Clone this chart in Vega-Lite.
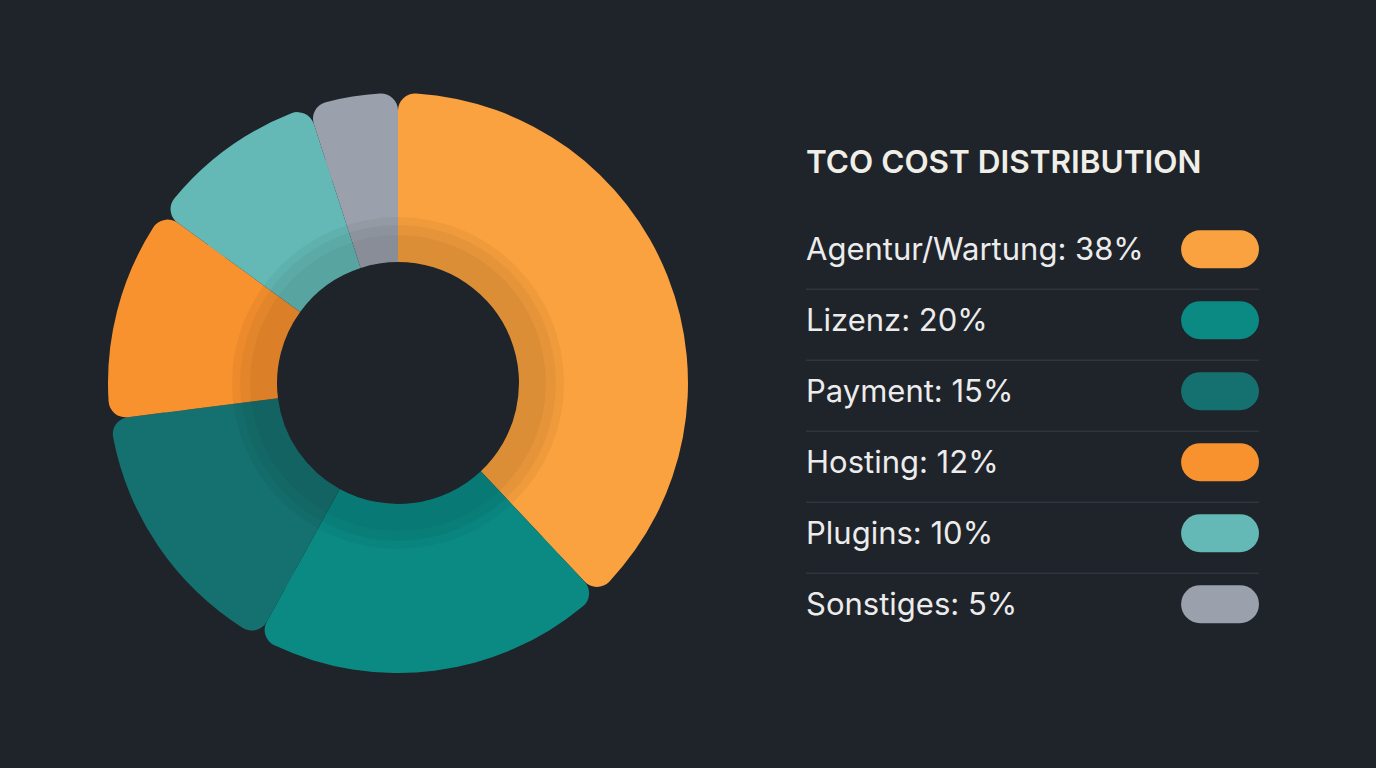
{
  "$schema": "https://vega.github.io/schema/vega-lite/v6.json",
  "background": "#1f232a",
  "padding": {"left": 108, "top": 93, "right": 118, "bottom": 95},
  "spacing": 117,
  "config": {"view": {"stroke": null}, "font": "Inter"},
  "datasets": {
    "costs": [
      {"category": "Agentur/Wartung", "share": 38, "rank": 1},
      {"category": "Lizenz", "share": 20, "rank": 2},
      {"category": "Payment", "share": 15, "rank": 3},
      {"category": "Hosting", "share": 12, "rank": 4},
      {"category": "Plugins", "share": 10, "rank": 5},
      {"category": "Sonstiges", "share": 5, "rank": 6}
    ],
    "ring": [{"ring": "shade", "full": 1}]
  },
  "hconcat": [
    {
      "width": 580,
      "height": 580,
      "layer": [
        {
          "data": {"name": "costs"},
          "mark": {"type": "arc", "outerRadius": 290, "innerRadius": 200, "cornerRadius": 17},
          "encoding": {
            "theta": {"field": "share", "type": "quantitative", "stack": true},
            "order": {"field": "rank", "type": "quantitative"},
            "color": {
              "field": "category",
              "type": "nominal",
              "legend": null,
              "scale": {
                "domain": ["Agentur/Wartung", "Lizenz", "Payment", "Hosting", "Plugins", "Sonstiges"],
                "range": ["#faa23f", "#0b8a84", "#15716f", "#f8922f", "#64b9b6", "#9aa1ac"]
              }
            }
          }
        },
        {
          "data": {"name": "costs"},
          "mark": {"type": "arc", "outerRadius": 235, "innerRadius": 121},
          "encoding": {
            "theta": {"field": "share", "type": "quantitative", "stack": true},
            "order": {"field": "rank", "type": "quantitative"},
            "color": {"field": "category", "type": "nominal", "legend": null}
          }
        },
        {
          "data": {"name": "ring"},
          "mark": {"type": "arc", "outerRadius": 166, "innerRadius": 121, "color": "#000000", "opacity": 0.045},
          "encoding": {"theta": {"field": "full", "type": "quantitative", "stack": true}}
        },
        {
          "data": {"name": "ring"},
          "mark": {"type": "arc", "outerRadius": 158, "innerRadius": 121, "color": "#000000", "opacity": 0.04},
          "encoding": {"theta": {"field": "full", "type": "quantitative", "stack": true}}
        },
        {
          "data": {"name": "ring"},
          "mark": {"type": "arc", "outerRadius": 148, "innerRadius": 121, "color": "#000000", "opacity": 0.035},
          "encoding": {"theta": {"field": "full", "type": "quantitative", "stack": true}}
        }
      ],
      "resolve": {"scale": {"theta": "independent"}}
    },
    {
      "width": 453,
      "height": 580,
      "data": {"name": "costs"},
      "transform": [
        {"calculate": "datum.category + ': ' + datum.share + '%'", "as": "label"}
      ],
      "layer": [
        {
          "transform": [{"filter": "datum.rank < 6"}],
          "mark": {"type": "rule", "color": "#3a3f47", "strokeWidth": 1, "yOffset": 40},
          "encoding": {
            "x": {"datum": 0, "type": "quantitative", "scale": {"domain": [0, 1], "nice": false, "zero": false}, "axis": null},
            "x2": {"datum": 1},
            "y": {"field": "rank", "type": "quantitative", "scale": {"domain": [-1.2, 6.97], "reverse": true, "nice": false, "zero": false}, "axis": null}
          }
        },
        {
          "mark": {"type": "text", "align": "left", "baseline": "middle", "fontSize": 31, "color": "#ececec", "yOffset": 2},
          "encoding": {
            "x": {"datum": 0, "type": "quantitative", "scale": {"domain": [0, 1], "nice": false, "zero": false}, "axis": null},
            "y": {"field": "rank", "type": "quantitative", "scale": {"domain": [-1.2, 6.97], "reverse": true, "nice": false, "zero": false}, "axis": null},
            "text": {"field": "label"}
          }
        },
        {
          "mark": {"type": "rule", "strokeWidth": 38, "strokeCap": "round"},
          "encoding": {
            "x": {"datum": 0.87, "type": "quantitative", "scale": {"domain": [0, 1], "nice": false, "zero": false}, "axis": null},
            "x2": {"datum": 0.958},
            "y": {"field": "rank", "type": "quantitative", "scale": {"domain": [-1.2, 6.97], "reverse": true, "nice": false, "zero": false}, "axis": null},
            "color": {
              "field": "category",
              "type": "nominal",
              "legend": null,
              "scale": {
                "domain": ["Agentur/Wartung", "Lizenz", "Payment", "Hosting", "Plugins", "Sonstiges"],
                "range": ["#faa23f", "#0b8a84", "#15716f", "#f8922f", "#64b9b6", "#9aa1ac"]
              }
            }
          }
        },
        {
          "data": {"values": [{"heading": "TCO COST DISTRIBUTION"}]},
          "transform": [],
          "mark": {"type": "text", "align": "left", "baseline": "middle", "fontSize": 31.5, "fontWeight": 600, "color": "#efefe8", "yOffset": 1},
          "encoding": {
            "x": {"datum": 0, "type": "quantitative", "scale": {"domain": [0, 1], "nice": false, "zero": false}, "axis": null},
            "y": {"datum": -0.22, "type": "quantitative", "scale": {"domain": [-1.2, 6.97], "reverse": true, "nice": false, "zero": false}, "axis": null},
            "text": {"field": "heading"}
          }
        }
      ]
    }
  ]
}
